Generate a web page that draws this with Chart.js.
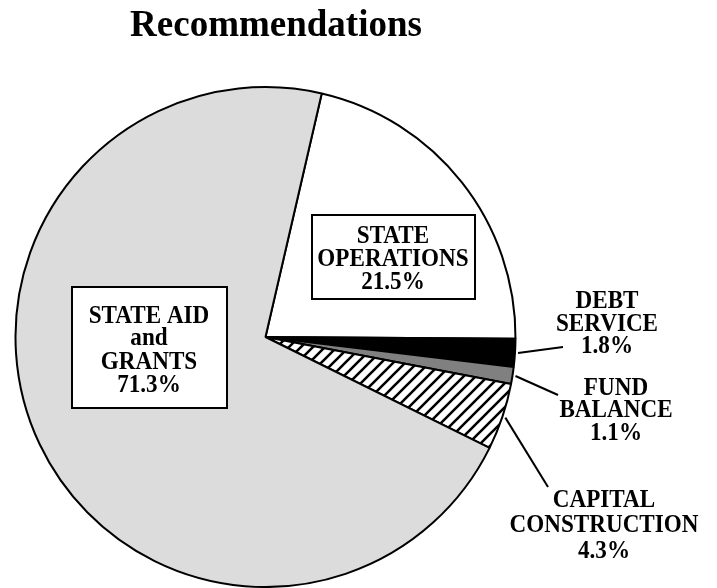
<!DOCTYPE html>
<html>
<head>
<meta charset="utf-8">
<title>Recommendations</title>
<script src="https://cdn.jsdelivr.net/npm/chart.js@4/dist/chart.umd.min.js"></script>
<style>
  html, body { margin: 0; padding: 0; background: #fff; }
  #wrap { position: relative; width: 717px; height: 588px; }
</style>
</head>
<body>
<div id="wrap"><canvas id="pie" width="717" height="588"></canvas></div>
<script>
// slices, clockwise from the top
const categories = ['STATE OPERATIONS', 'DEBT SERVICE', 'FUND BALANCE', 'CAPITAL CONSTRUCTION', 'STATE AID and GRANTS'];
const shares = [21.5, 1.8, 1.1, 4.3, 71.3];
const labelLines = [
  ['STATE', 'OPERATIONS'],
  ['DEBT', 'SERVICE'],
  ['FUND', 'BALANCE'],
  ['CAPITAL', 'CONSTRUCTION'],
  ['STATE AID', 'and', 'GRANTS']
];
const title = 'Recommendations';

const FONT = '"Liberation Serif", "Times New Roman", serif';

// diagonal hatch for the capital slice
function hatch() {
  const s = 12;
  const c = document.createElement('canvas');
  c.width = s; c.height = s;
  const g = c.getContext('2d');
  g.fillStyle = '#fff';
  g.fillRect(0, 0, s, s);
  g.strokeStyle = '#000';
  g.lineWidth = 2.6;
  g.beginPath();
  g.moveTo(-2, s + 2); g.lineTo(s + 2, -2);
  g.moveTo(-2, 2); g.lineTo(2, -2);
  g.moveTo(s - 2, s + 2); g.lineTo(s + 2, s - 2);
  g.stroke();
  return g.createPattern(c, 'repeat');
}

const fills = ['#ffffff', '#000000', '#808080', hatch(), '#dcdcdc'];

// where each label goes: boxed ones sit inside the pie, the rest get a leader line
const placement = [
  { x: 393, base: [243, 266, 289], box: [312, 215, 475, 299] },
  { x: 607, base: [308, 331, 353], lead: [563, 347] },
  { x: 616, base: [395, 417, 440], lead: [558, 395] },
  { x: 604, base: [507, 532, 558], lead: [548, 487] },
  { x: 149, base: [323, 345, 369, 392], box: [72, 287, 227, 408] }
];

// tall, slightly narrowed bold serif
function label(ctx, text, x, y) {
  ctx.save();
  ctx.translate(x, y);
  ctx.scale(0.89, 1);
  ctx.fillText(text, 0, 0);
  ctx.restore();
}

const labelsPlugin = {
  id: 'pieLabels',
  afterDraw(chart) {
    const ctx = chart.ctx;
    const arcs = chart.getDatasetMeta(0).data;
    ctx.save();

    ctx.fillStyle = '#000';
    ctx.textAlign = 'center';
    ctx.textBaseline = 'alphabetic';
    ctx.font = 'bold 37px ' + FONT;
    ctx.fillText(title, 276, 36);

    placement.forEach((p, i) => {
      const lines = labelLines[i].concat(shares[i].toFixed(1) + '%');
      if (p.box) {
        const [x0, y0, x1, y1] = p.box;
        ctx.fillStyle = '#fff';
        ctx.fillRect(x0, y0, x1 - x0, y1 - y0);
        ctx.strokeStyle = '#000';
        ctx.lineWidth = 2;
        ctx.strokeRect(x0, y0, x1 - x0, y1 - y0);
      }
      if (p.lead) {
        const a = arcs[i];
        const mid = (a.startAngle + a.endAngle) / 2;
        const r = a.outerRadius + 3;
        ctx.strokeStyle = '#000';
        ctx.lineWidth = 2;
        ctx.beginPath();
        ctx.moveTo(a.x + Math.cos(mid) * r, a.y + Math.sin(mid) * r);
        ctx.lineTo(p.lead[0], p.lead[1]);
        ctx.stroke();
      }
      ctx.fillStyle = '#000';
      ctx.font = 'bold 26px ' + FONT;
      lines.forEach((t, k) => label(ctx, t, p.x, p.base[k]));
    });
    ctx.restore();
  }
};

new Chart(document.getElementById('pie'), {
  type: 'pie',
  data: {
    labels: categories,
    datasets: [{
      data: shares,
      backgroundColor: fills,
      borderColor: '#000',
      borderWidth: 2
    }]
  },
  options: {
    responsive: false,
    animation: false,
    rotation: 13,
    layout: { padding: { left: 13, top: 86, right: 199, bottom: 0 } },
    plugins: {
      legend: { display: false },
      tooltip: { enabled: false },
      title: { display: false }
    }
  },
  plugins: [labelsPlugin]
});
</script>
</body>
</html>
